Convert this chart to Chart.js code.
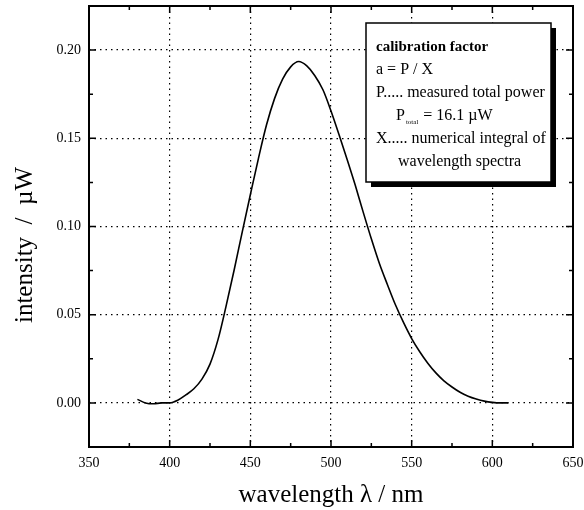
<!DOCTYPE html>
<html>
<head>
<meta charset="utf-8">
<script src="https://cdn.jsdelivr.net/npm/chart.js@4.4.1/dist/chart.umd.min.js"></script>
<style>
  html, body { margin: 0; padding: 0; background: #fff; }
</style>
</head>
<body>
<canvas id="espectro" width="584" height="510"></canvas>
<script>
const wavelength = [380, 385, 390, 395, 400, 405, 410, 415, 420, 425, 430, 435, 440, 445,
  450, 455, 460, 465, 470, 475, 480, 485, 490, 495, 500, 505, 510, 515, 520, 525, 530,
  535, 540, 545, 550, 555, 560, 565, 570, 575, 580, 585, 590, 595, 600, 605, 610];
const intensity = [0.002, 0.0, -0.0005, 0.0, 0.0, 0.0015, 0.0045, 0.008, 0.0135, 0.022, 0.036,
  0.055, 0.0755, 0.097, 0.118, 0.1385, 0.1575, 0.1725, 0.1835, 0.1905, 0.1935, 0.191, 0.1855,
  0.1775, 0.1655, 0.152, 0.138, 0.1235, 0.108, 0.093, 0.079, 0.067, 0.0555, 0.0455, 0.0365,
  0.029, 0.0225, 0.017, 0.0125, 0.009, 0.006, 0.0038, 0.0022, 0.001, 0.0003, 0.0, 0.0];

const xTicks = [350, 400, 450, 500, 550, 600, 650];
const yTicks = [0.0, 0.05, 0.10, 0.15, 0.20];
const yTitle = "intensity  /  \u00b5W";

const boxLines = [
  { text: "calibration factor", bold: true, indent: 0 },
  { text: "a = P / X", indent: 0 },
  { text: "P..... measured total power", indent: 0 },
  { text: "P", sub: "total", after: " = 16.1 \u00b5W", indent: 20 },
  { text: "X..... numerical integral of", indent: 0 },
  { text: "wavelength spectra", indent: 22 },
];

const serif = "'Liberation Serif', 'Times New Roman', serif";

// marco, ticks hacia dentro, titulo del eje y y cuadro de texto
const extras = {
  id: "extras",
  afterDraw(chart) {
    const ctx = chart.ctx;
    const a = chart.chartArea;
    const xs = chart.scales.x;
    const ys = chart.scales.y;
    ctx.save();
    ctx.strokeStyle = "#000";
    ctx.lineWidth = 2;
    ctx.strokeRect(a.left, a.top, a.right - a.left, a.bottom - a.top);

    ctx.lineWidth = 1.5;
    for (let v = 350; v <= 650; v += 25) {
      const px = xs.getPixelForValue(v);
      const len = v % 50 === 0 ? 7 : 4;
      ctx.beginPath();
      ctx.moveTo(px, a.bottom); ctx.lineTo(px, a.bottom - len);
      ctx.moveTo(px, a.top); ctx.lineTo(px, a.top + len);
      ctx.stroke();
    }
    for (let i = -1; i <= 9; i++) {
      const v = i * 0.025;
      const py = ys.getPixelForValue(v);
      const len = i % 2 === 0 ? 7 : 4;
      ctx.beginPath();
      ctx.moveTo(a.left, py); ctx.lineTo(a.left + len, py);
      ctx.moveTo(a.right, py); ctx.lineTo(a.right - len, py);
      ctx.stroke();
    }

    // titulo eje y (algo mas abajo que el centro, como en el original)
    ctx.save();
    ctx.translate(25, 245);
    ctx.rotate(-Math.PI / 2);
    ctx.fillStyle = "#000";
    ctx.font = "25px " + serif;
    ctx.textAlign = "center";
    ctx.textBaseline = "middle";
    ctx.fillText(yTitle, 0, 0);
    ctx.restore();

    // cuadro
    const bx = 366, by = 23, bw = 185, bh = 159;
    ctx.fillStyle = "#000";
    ctx.fillRect(bx + 5, by + 5, bw, bh);
    ctx.fillStyle = "#fff";
    ctx.fillRect(bx, by, bw, bh);
    ctx.lineWidth = 1.5;
    ctx.strokeRect(bx, by, bw, bh);

    ctx.fillStyle = "#000";
    ctx.textBaseline = "middle";
    ctx.textAlign = "left";
    boxLines.forEach((ln, i) => {
      const y = by + 24 + i * 23;
      const x = bx + 10 + ln.indent;
      ctx.font = (ln.bold ? "bold 15px " : "16px ") + serif;
      ctx.fillText(ln.text, x, y);
      if (ln.sub) {
        let w = ctx.measureText(ln.text).width;
        ctx.font = "7px " + serif;
        ctx.fillText(ln.sub, x + w + 1, y + 6);
        w += ctx.measureText(ln.sub).width + 2;
        ctx.font = "16px " + serif;
        ctx.fillText(ln.after, x + w, y);
      }
    });
    ctx.restore();
  },
};

new Chart(document.getElementById("espectro").getContext("2d"), {
  type: "line",
  data: {
    datasets: [
      {
        data: wavelength.map((w, i) => ({ x: w, y: intensity[i] })),
        borderColor: "#000",
        borderWidth: 1.6,
        pointRadius: 0,
        cubicInterpolationMode: "monotone",
        fill: false,
      },
    ],
  },
  options: {
    responsive: false,
    animation: false,
    devicePixelRatio: 1,
    layout: { padding: { top: 6, right: 11, left: 0, bottom: 0 } },
    plugins: { legend: { display: false }, tooltip: { enabled: false } },
    scales: {
      x: {
        type: "linear",
        min: 350,
        max: 650,
        afterBuildTicks: (s) => { s.ticks = xTicks.map((v) => ({ value: v })); },
        afterFit: (s) => { s.height = 63; s.paddingLeft = 0; s.paddingRight = 0; },
        ticks: {
          color: "#000",
          padding: 8,
          maxRotation: 0,
          font: { family: serif, size: 14 },
        },
        grid: { color: "#000", lineWidth: 1.2, drawTicks: false },
        border: { display: false, dash: [1.5, 4] },
        title: {
          display: true,
          text: "wavelength \u03bb / nm",
          color: "#000",
          font: { family: serif, size: 25 },
          padding: { top: 4, bottom: 0 },
        },
      },
      y: {
        type: "linear",
        min: -0.025,
        max: 0.225,
        afterBuildTicks: (s) => { s.ticks = yTicks.map((v) => ({ value: v })); },
        afterFit: (s) => { s.width = 89; s.paddingTop = 0; s.paddingBottom = 0; },
        ticks: {
          color: "#000",
          padding: 8,
          font: { family: serif, size: 14 },
          callback: (v) => v.toFixed(2),
        },
        grid: { color: "#000", lineWidth: 1.2, drawTicks: false },
        border: { display: false, dash: [1.5, 4] },
      },
    },
  },
  plugins: [extras],
});
</script>
</body>
</html>
